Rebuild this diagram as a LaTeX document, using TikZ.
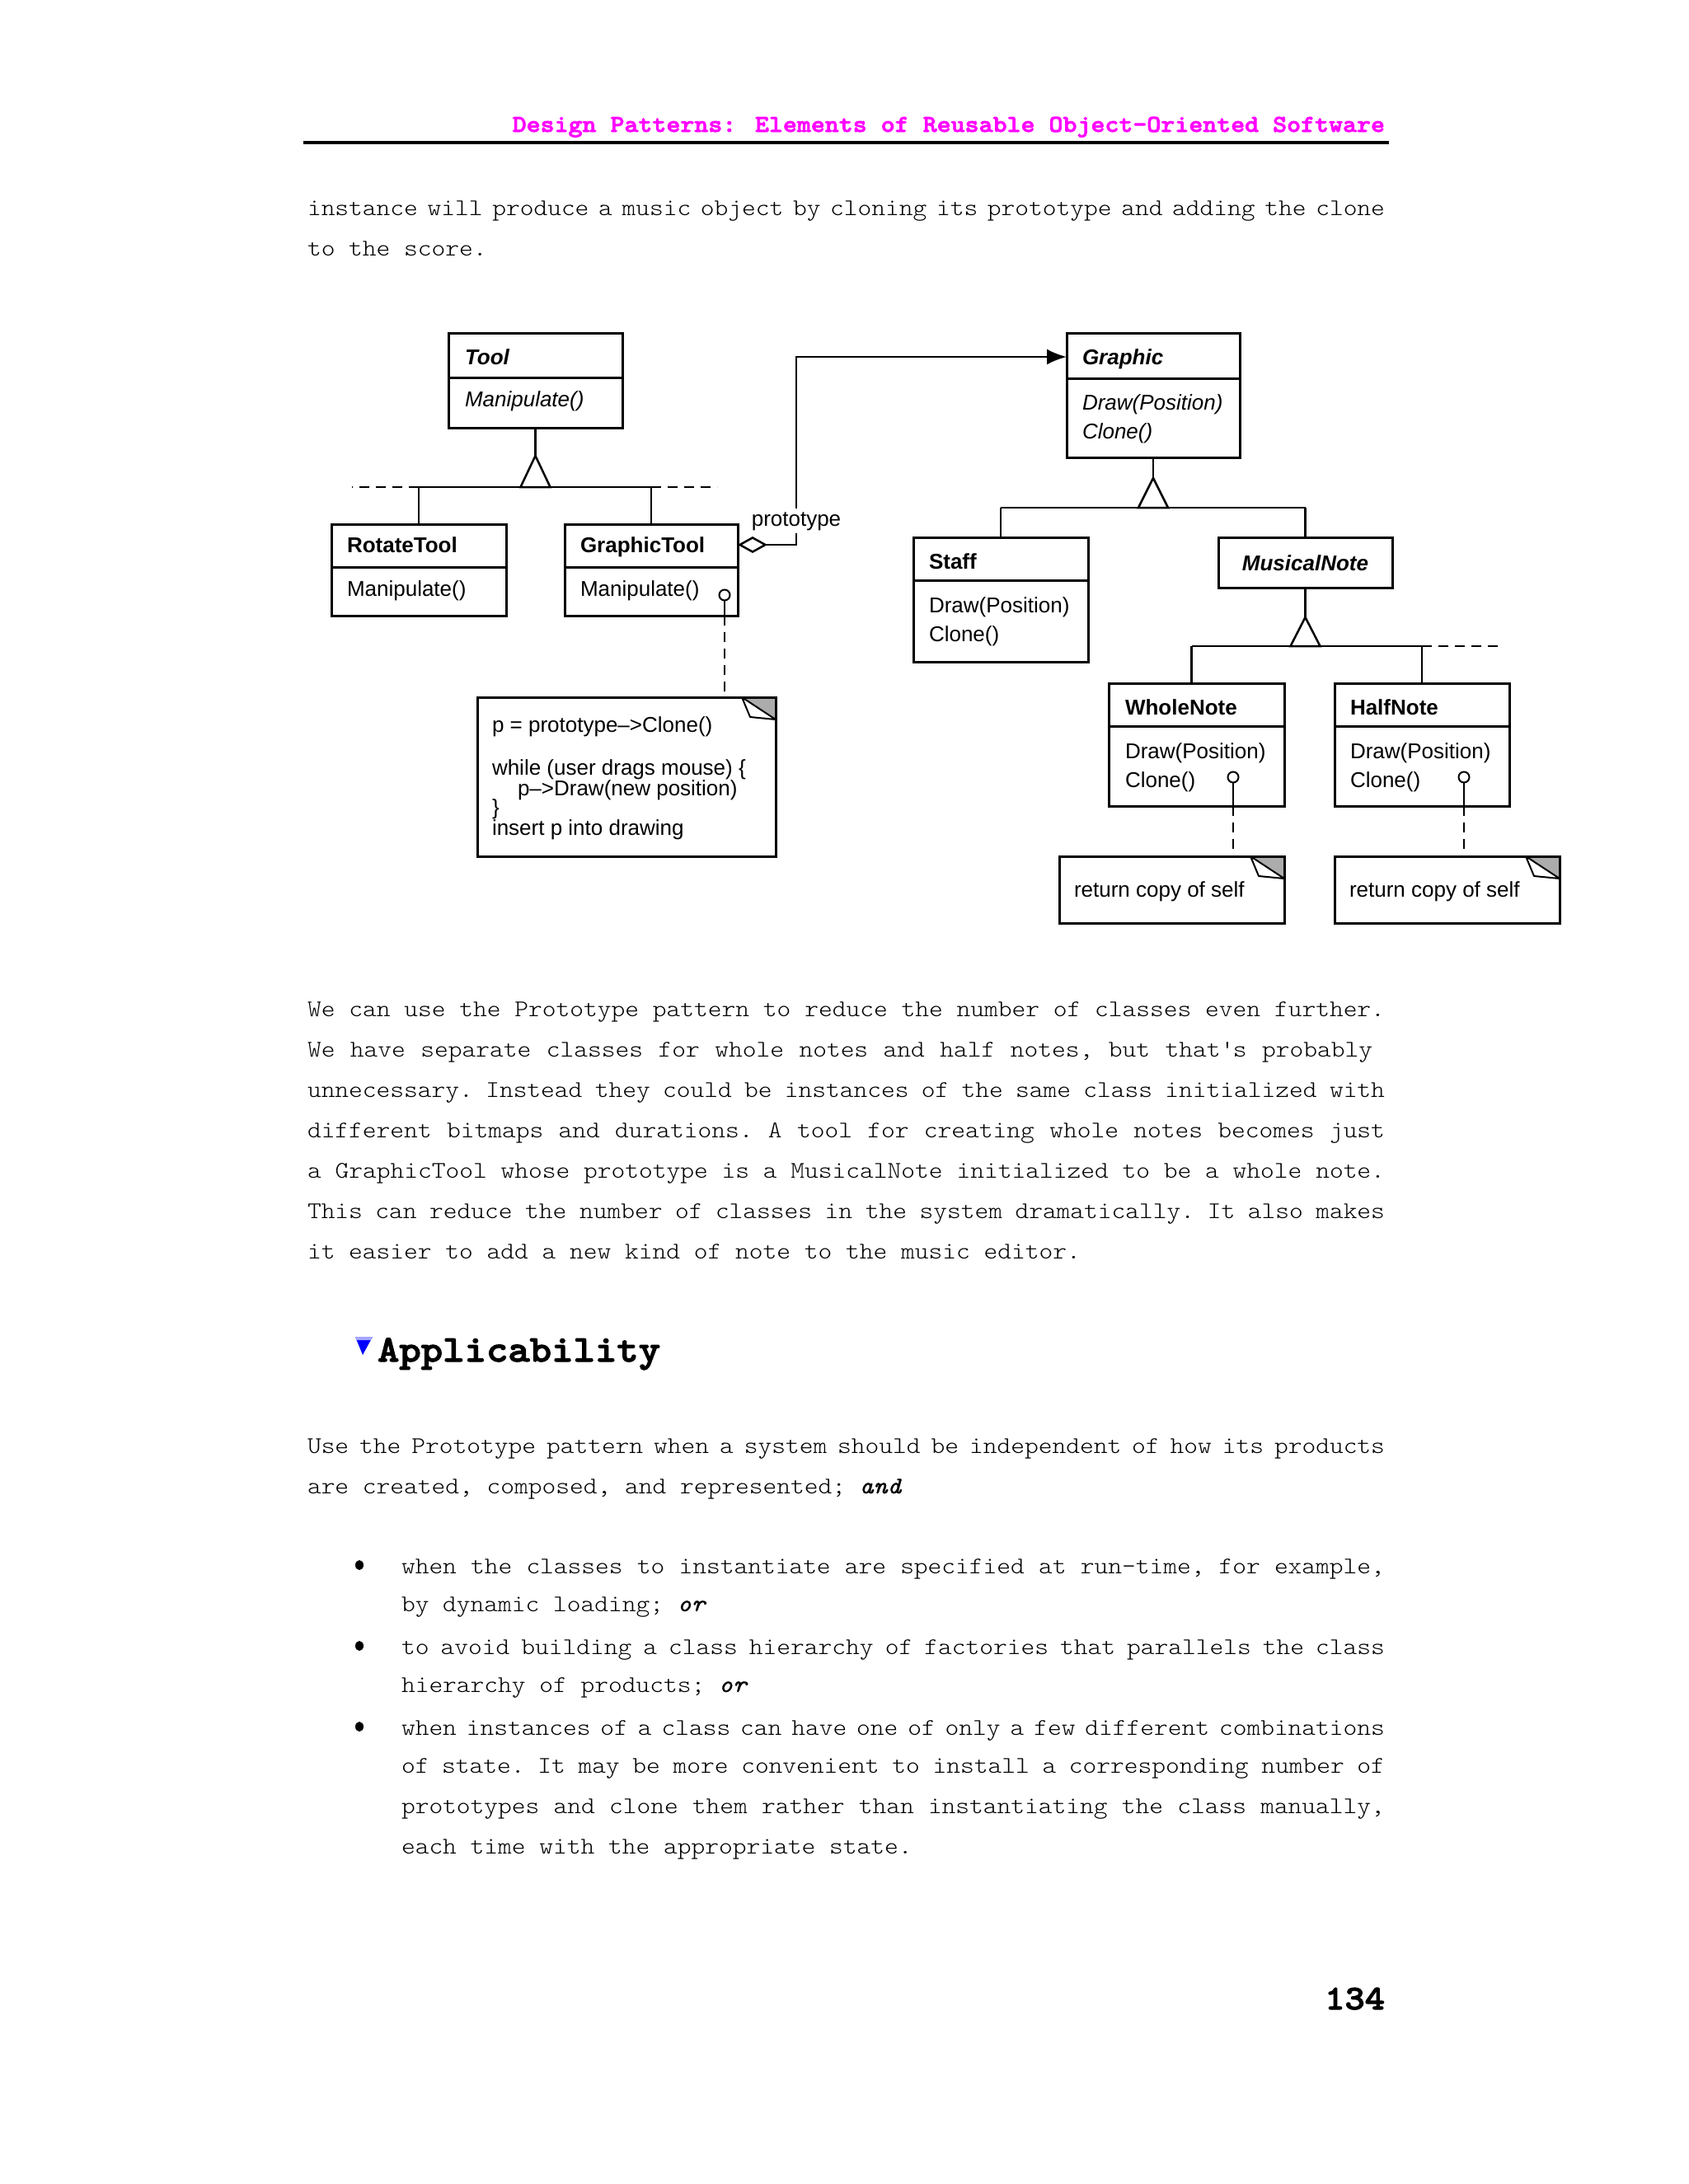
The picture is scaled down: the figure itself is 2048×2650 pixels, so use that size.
\documentclass[tikz,border=0pt]{standalone}
\usepackage{fontspec}
\usetikzlibrary{arrows.meta,calc}
\newfontfamily\dsans{Liberation Sans}
\newfontfamily\bodyfont{lmmonolt10-regular.otf}[FakeStretch=1.1]
\newfontfamily\bodyit{lmmono10-italic.otf}[FakeStretch=1.1, FakeBold=1]
\newfontfamily\bodybf{lmmonolt10-bold.otf}[FakeStretch=1.1, FakeBold=2.5]
\definecolor{hdrmag}{RGB}{255,0,255}
\newcommand\J[2]{\hbox to #1{\frenchspacing\spaceskip=\fontdimen2\font plus 1fil minus 1fil\relax\xspaceskip=\spaceskip #2}}
\newcommand\divider[2]{\draw[line width=3pt] ($(#1.north west)+(0,#2)$) -- ($(#1.north east)+(0,#2)$);}
\newcommand\dogear[1]{%
  \fill[gray!65] ($(#1.north east)+(-41,0)$) -- (#1.north east) -- ($(#1.north east)+(0,27)$) -- cycle;
  \draw[line width=3pt] ($(#1.north east)+(-41,0)$) -- (#1.north east) -- ($(#1.north east)+(0,27)$);
  \draw[line width=2pt, fill=white, line join=round] ($(#1.north east)+(-41,0)$) -- ($(#1.north east)+(-31,24)$) -- ($(#1.north east)+(0,27)$) -- cycle;
}
\tikzset{
  body/.style={inner sep=0pt, outer sep=0pt, anchor=base west, font=\fontsize{29}{35}\bodyfont},
  cls/.style={draw, line width=3pt, inner sep=0pt, outer sep=0pt, anchor=north west},
  ctext/.style={inner sep=0pt, outer sep=0pt, anchor=base west, font=\fontsize{26}{31}\dsans},
  conn/.style={line width=2.5pt},
  dsh/.style={line width=2.5pt, dash pattern=on 12pt off 8pt},
  lolli/.style={draw, circle, line width=2pt, minimum size=13pt, inner sep=0pt, outer sep=0pt},
}
\begin{document}
\begin{tikzpicture}[x=1pt,y=-1pt]
\useasboundingbox (0,0) rectangle (2048,2650);
\fill[white] (0,0) rectangle (2048,2650);

% ---------- header ----------
\node[body, anchor=base east, font=\fontsize{29.4}{35}\bodybf, text=hdrmag] (hdr) at (1680,160) {Design Patterns: Elements of Reusable Object-Oriented Software};
\coordinate (ruleL) at (368,173);
\coordinate (ruleR) at (1685,173);
\draw[line width=4pt] (ruleL) -- (ruleR);

\node[body] (l1) at (373,261) {\J{1307pt}{instance will produce a music object by cloning its prototype and adding the clone}};
\node[body] (l2) at (373,310) {to the score.};

% ---------- diagram: classes ----------
\node[cls, minimum width=211pt, minimum height=115pt] (tool) at (544,404) {};
\divider{tool}{54}
\node[ctext, font=\fontsize{26}{31}\dsans\bfseries\itshape] (toolN) at (564,442) {Tool};
\node[ctext, font=\fontsize{26}{31}\dsans\itshape] (toolM) at (564,493) {Manipulate()};

\node[cls, minimum width=212pt, minimum height=111pt] (rot) at (402,636) {};
\divider{rot}{52}
\node[ctext, font=\fontsize{26}{31}\dsans\bfseries] (rotN) at (421,670) {RotateTool};
\node[ctext] (rotM) at (421,723) {Manipulate()};

\node[cls, minimum width=210pt, minimum height=111pt] (gt) at (685,636) {};
\divider{gt}{52}
\node[ctext, font=\fontsize{26}{31}\dsans\bfseries] (gtN) at (704,670) {GraphicTool};
\node[ctext] (gtM) at (704,723) {Manipulate()};

\node[cls, minimum width=210pt, minimum height=151pt] (graphic) at (1294,404) {};
\divider{graphic}{55}
\node[ctext, font=\fontsize{26}{31}\dsans\bfseries\itshape] (grN) at (1313,442) {Graphic};
\node[ctext, font=\fontsize{26}{31}\dsans\itshape] (grM1) at (1313,497) {Draw(Position)};
\node[ctext, font=\fontsize{26}{31}\dsans\itshape] (grM2) at (1313,532) {Clone()};

\node[cls, minimum width=212pt, minimum height=151pt] (staff) at (1108,652) {};
\divider{staff}{52}
\node[ctext, font=\fontsize{26}{31}\dsans\bfseries] (stN) at (1127,690) {Staff};
\node[ctext] (stM1) at (1127,743) {Draw(Position)};
\node[ctext] (stM2) at (1127,778) {Clone()};

\node[cls, minimum width=211pt, minimum height=61pt] (mn) at (1478,652) {};
\node[ctext, anchor=base, font=\fontsize{26}{31}\dsans\bfseries\itshape] (mnN) at (1583.5,692) {MusicalNote};

\node[cls, minimum width=213pt, minimum height=149pt] (wn) at (1345,829) {};
\divider{wn}{52}
\node[ctext, font=\fontsize{26}{31}\dsans\bfseries] (wnN) at (1365,867) {WholeNote};
\node[ctext] (wnM1) at (1365,920) {Draw(Position)};
\node[ctext] (wnM2) at (1365,955) {Clone()};

\node[cls, minimum width=212pt, minimum height=149pt] (hn) at (1619,829) {};
\divider{hn}{52}
\node[ctext, font=\fontsize{26}{31}\dsans\bfseries] (hnN) at (1638,867) {HalfNote};
\node[ctext] (hnM1) at (1638,920) {Draw(Position)};
\node[ctext] (hnM2) at (1638,955) {Clone()};

% ---------- notes ----------
\node[cls, minimum width=362pt, minimum height=193pt] (code) at (579,846) {};
\dogear{code}
\node[ctext] (c1) at (597,888) {p = prototype\textendash>Clone()};
\node[ctext] (c2) at (597,940) {while (user drags mouse) \{};
\node[ctext] (c3) at (628,965) {p\textendash>Draw(new position)};
\node[ctext] (c4) at (597,988) {\}};
\node[ctext] (c5) at (597,1013) {insert p into drawing};

\node[cls, minimum width=273pt, minimum height=81pt] (n1) at (1285,1039) {};
\dogear{n1}
\node[ctext] (n1t) at (1303,1088) {return copy of self};

\node[cls, minimum width=273pt, minimum height=81pt] (n2) at (1619,1039) {};
\dogear{n2}
\node[ctext] (n2t) at (1637,1088) {return copy of self};

% ---------- inheritance: Tool ----------
\coordinate (toolApex) at ($(tool.south)+(0,34)$);
\coordinate (toolBar) at ($(tool.south)+(0,72)$);
\draw[conn] (tool.south) -- (toolApex);
\draw[conn, line join=miter] (toolApex) -- ++(-18,38) -- ++(36,0) -- cycle;
\draw[conn] (rot.north |- toolBar) -- (gt.north |- toolBar);
\draw[conn] (rot.north |- toolBar) -- (rot.north);
\draw[conn] (gt.north |- toolBar) -- (gt.north);
\draw[dsh] (rot.north |- toolBar) -- ++(-81,0);
\draw[dsh] (gt.north |- toolBar) -- ++(80,0);

% ---------- inheritance: Graphic ----------
\coordinate (grApex) at ($(graphic.south)+(0,25)$);
\coordinate (grBar) at ($(graphic.south)+(0,61)$);
\draw[conn] (graphic.south) -- (grApex);
\draw[conn, line join=miter] (grApex) -- ++(-18,36) -- ++(36,0) -- cycle;
\draw[conn] (staff.north |- grBar) -- (mn.north |- grBar);
\draw[conn] (staff.north |- grBar) -- (staff.north);
\draw[conn] (mn.north |- grBar) -- (mn.north);

% ---------- inheritance: MusicalNote ----------
\coordinate (mnApex) at ($(mn.south)+(0,36)$);
\coordinate (mnBar) at ($(mn.south)+(0,71)$);
\coordinate (wnTop) at ($(wn.north)+(-6,0)$);
\draw[conn] (mn.south) -- (mnApex);
\draw[conn, line join=miter] (mnApex) -- ++(-18,35) -- ++(36,0) -- cycle;
\draw[conn] (wnTop |- mnBar) -- (hn.north |- mnBar);
\draw[conn] (wnTop |- mnBar) -- (wnTop);
\draw[conn] (hn.north |- mnBar) -- (hn.north);
\draw[dsh] (hn.north |- mnBar) -- ++(96,0);

% ---------- prototype reference ----------
\draw[conn, {Diamond[open, length=36pt, width=20pt]}-{Latex[length=24pt, width=19pt]}]
  ($(gt.north east)+(0,25)$) -- ++(71,0) |- ($(graphic.north west)+(0,29)$);
\node[fill=white, inner xsep=2pt, inner ysep=4pt, anchor=base, font=\fontsize{26}{31}\dsans] (proto) at ($(gt.north east)+(71,2)$) {prototype};

% ---------- lollipops to notes ----------
\node[lolli] (gtL) at (879,722) {};
\draw[conn] (gtL.south) -- (gtL.south |- gt.south);
\draw[dsh] (gtL.south |- gt.south) -- (gtL.south |- code.north);

\node[lolli] (wnL) at (1496,943) {};
\draw[conn] (wnL.south) -- (wnL.south |- wn.south);
\draw[dsh] (wnL.south |- wn.south) -- (wnL.south |- n1.north);

\node[lolli] (hnL) at (1776,943) {};
\draw[conn] (hnL.south) -- (hnL.south |- hn.south);
\draw[dsh] (hnL.south |- hn.south) -- (hnL.south |- n2.north);

% ---------- paragraph ----------
\node[body] (p1) at (373,1233) {\J{1307pt}{We can use the Prototype pattern to reduce the number of classes even further.}};
\node[body] (p2) at (373,1282) {\J{1292pt}{We have separate classes for whole notes and half notes, but that\textquotesingle s probably}};
\node[body] (p3) at (373,1331) {\J{1307pt}{unnecessary. Instead they could be instances of the same class initialized with}};
\node[body] (p4) at (373,1380) {\J{1307pt}{different bitmaps and durations. A tool for creating whole notes becomes just}};
\node[body] (p5) at (373,1429) {\J{1307pt}{a GraphicTool whose prototype is a MusicalNote initialized to be a whole note.}};
\node[body] (p6) at (373,1478) {\J{1307pt}{This can reduce the number of classes in the system dramatically. It also makes}};
\node[body] (p7) at (373,1527) {it easier to add a new kind of note to the music editor.};

% ---------- Applicability ----------
\fill[blue] (431,1622) -- (452,1622) -- (440,1644) -- cycle;
\fill[blue!35] (431,1622) -- (452,1622) -- (449.8,1626) -- (432.6,1626) -- cycle;
\node[body, font=\fontsize{45.7}{55}\bodybf] (app) at (458,1652) {Applicability};

\node[body] (u1) at (373,1763) {\J{1307pt}{Use the Prototype pattern when a system should be independent of how its products}};
\node[body] (u2) at (373,1812) {are created, composed, and represented; {\bodyit and}};

% ---------- bullets ----------
\fill (436,1899) ellipse [x radius=5pt, y radius=6pt];
\fill (436,1997) ellipse [x radius=5pt, y radius=6pt];
\fill (436,2095) ellipse [x radius=5pt, y radius=6pt];
\node[body] (b1a) at (487,1909) {\J{1193pt}{when the classes to instantiate are specified at run-time, for example,}};
\node[body] (b1b) at (487,1955) {by dynamic loading; {\bodyit or}};
\node[body] (b2a) at (487,2007) {\J{1193pt}{to avoid building a class hierarchy of factories that parallels the class}};
\node[body] (b2b) at (487,2053) {hierarchy of products; {\bodyit or}};
\node[body] (b3a) at (487,2105) {\J{1193pt}{when instances of a class can have one of only a few different combinations}};
\node[body] (b3b) at (487,2151) {\J{1193pt}{of state. It may be more convenient to install a corresponding number of}};
\node[body] (b3c) at (487,2200) {\J{1193pt}{prototypes and clone them rather than instantiating the class manually,}};
\node[body] (b3d) at (487,2249) {each time with the appropriate state.};

% ---------- page number ----------
\node[body, anchor=base east, font=\fontsize{42}{50}\bodybf] (pg) at (1680,2438) {134};
\end{tikzpicture}
\end{document}
